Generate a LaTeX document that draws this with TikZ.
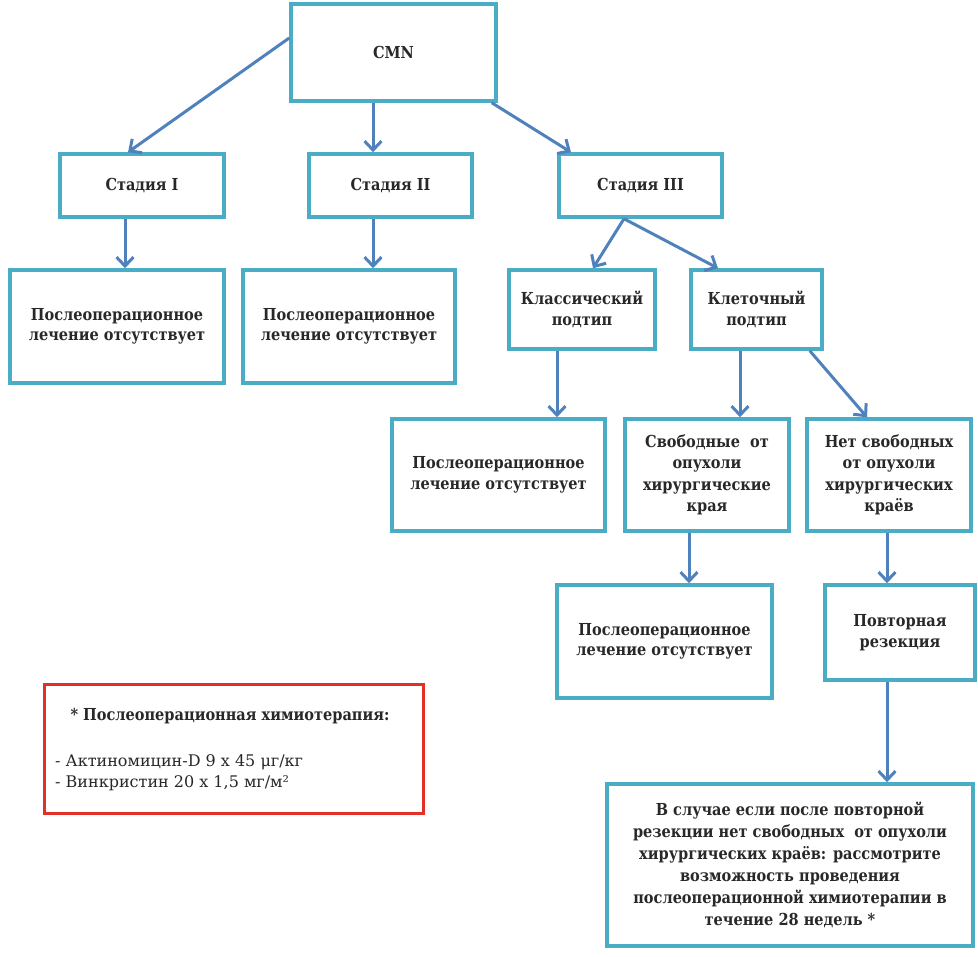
\documentclass[tikz,border=0pt]{standalone}
\usepackage{fontspec}
\setmainfont{DejaVu Serif}[BoldFeatures={FakeStretch=0.88}]
\usetikzlibrary{arrows.meta,shadows}
\definecolor{boxc}{RGB}{75,172,198}
\definecolor{arrc}{RGB}{79,129,189}
\definecolor{redc}{RGB}{226,48,38}
\definecolor{txtc}{RGB}{40,40,40}
\begin{document}
\begin{tikzpicture}[x=1pt,y=-1pt,
  box/.style={draw=boxc, line width=3.5pt, fill=white, rectangle, align=center,
    text=txtc, font=\bfseries\fontsize{16.5}{20.5}\selectfont, inner sep=2pt,
    drop shadow={shadow xshift=2pt,shadow yshift=-2pt,opacity=0.3}},
  redbox/.style={draw=redc, line width=3pt, fill=white, rectangle,
    drop shadow={shadow xshift=2pt,shadow yshift=-2pt,opacity=0.3}},
  arr/.style={draw=arrc, line width=3pt, -{Straight Barb[length=9pt,width=17pt]}},
  lbl/.style={text=txtc, inner sep=0pt},
]
\useasboundingbox (0,0) rectangle (978,957);
% boxes
\node[box, minimum width=205pt, minimum height=97pt] (cmn) at (393.5,52.5) {CMN};
\node[box, minimum width=164pt, minimum height=63pt] (s1) at (142,185.5) {Стадия I};
\node[box, minimum width=163pt, minimum height=63pt] (s2) at (390.5,185.5) {Стадия II};
\node[box, minimum width=163pt, minimum height=63pt] (s3) at (640.5,185.5) {Стадия III};
\node[box, minimum width=214pt, minimum height=113pt] (r1) at (117,326.5) {Послеоперационное\\лечение отсутствует};
\node[box, minimum width=212pt, minimum height=113pt] (r2) at (349,326.5) {Послеоперационное\\лечение отсутствует};
\node[box, minimum width=146pt, minimum height=79pt] (kl) at (582,309.5) {Классический\\подтип};
\node[box, minimum width=131pt, minimum height=79pt] (kt) at (756.5,309.5) {Клеточный\\подтип};
\node[box, minimum width=213pt, minimum height=112pt] (r3) at (498.5,475) {Послеоперационное\\лечение отсутствует};
\node[box, minimum width=164pt, minimum height=112pt, font=\bfseries\fontsize{16.5}{21.5}\selectfont] (sv) at (707,475) {Свободные\ \ от\\опухоли\\хирургические\\края};
\node[box, minimum width=164pt, minimum height=112pt, font=\bfseries\fontsize{16.5}{21.5}\selectfont] (ns) at (889,475) {Нет свободных\\от опухоли\\хирургических\\краёв};
\node[box, minimum width=215pt, minimum height=113pt] (r4) at (664.5,641.5) {Послеоперационное\\лечение отсутствует};
\node[box, minimum width=150pt, minimum height=95pt] (pv) at (900,632.5) {Повторная\\резекция};
\node[box, minimum width=366pt, minimum height=162pt, font=\bfseries\fontsize{16.5}{22}\selectfont] (fin) at (790,865)
  {В случае если после повторной\\резекции нет свободных\ \ от опухоли\\хирургических краёв: рассмотрите\\возможность проведения\\послеоперационной химиотерапии в\\течение 28 недель *};
% red note box
\node[redbox, minimum width=379pt, minimum height=129pt] (note) at (233.5,748.5) {};
\node[lbl, font=\bfseries\fontsize{16.5}{20}\selectfont] (notet) at (230,716) {* Послеоперационная химиотерапия:};
\node[lbl, anchor=west, align=left, font=\fontsize{16}{21}\selectfont] (notel) at (55,772.5)
  {- Актиномицин-D 9 х 45 μг/кг\\- Винкристин 20 х 1,5 мг/м²};
% arrows
\draw[arr] ([yshift=14.5pt]cmn.west) -- ([xshift=-14pt]s1.north);
\draw[arr] ([xshift=-20.5pt]cmn.south) -- ([xshift=-17.5pt]s2.north);
\draw[arr] ([xshift=-6pt]cmn.south east) -- ([xshift=-69.5pt]s3.north);
\draw[arr] ([xshift=-17pt]s1.south) -- ([xshift=8pt]r1.north);
\draw[arr] ([xshift=-17.5pt]s2.south) -- ([xshift=24pt]r2.north);
\draw[arr] ([xshift=-16.5pt]s3.south) -- ([xshift=11pt]kl.north);
\draw[arr] ([xshift=-16.5pt]s3.south) -- ([xshift=-38.5pt]kt.north);
\draw[arr] ([xshift=-25pt]kl.south) -- ([xshift=58.5pt]r3.north);
\draw[arr] ([xshift=-16.5pt]kt.south) -- ([xshift=33pt]sv.north);
\draw[arr] ([xshift=-14pt]kt.south east) -- ([xshift=-22pt]ns.north);
\draw[arr] ([xshift=-18pt]sv.south) -- ([xshift=24.5pt]r4.north);
\draw[arr] ([xshift=-2pt]ns.south) -- ([xshift=-13pt]pv.north);
\draw[arr] ([xshift=-13pt]pv.south) -- ([xshift=97pt]fin.north);
\end{tikzpicture}
\end{document}
